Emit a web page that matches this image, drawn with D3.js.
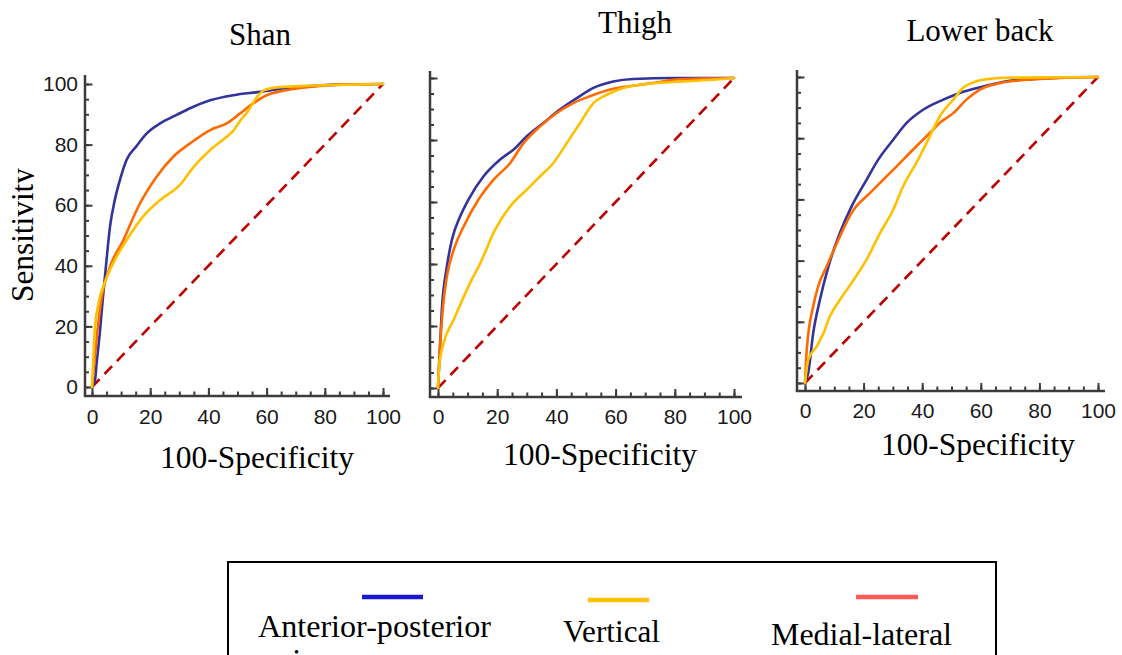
<!DOCTYPE html>
<html>
<head>
<meta charset="utf-8">
<script src="https://cdn.jsdelivr.net/npm/d3@7"></script>
<style>
  html, body { margin: 0; padding: 0; background: #fff; overflow: hidden; }
  svg { display: block; }
</style>
</head>
<body>
<svg id="chart" width="1122" height="655"></svg>
<script>
// ROC curves: [100-Specificity, Sensitivity] for each sensor axis and body location
const panelTitles = ["Shan", "Thigh", "Lower back"];
const seriesNames = ["Anterior-posterior", "Vertical", "Medial-lateral"];
const tickValues = [0, 20, 40, 60, 80, 100];
const minorTickValues = d3.range(0, 101, 5);

const apShank = [[0,0],[1.0,2],[1.6,8],[2.7,18],[3.8,30],[4.8,40],[6.2,53],[7.9,62],[9.8,69],[11.9,75],[15.3,79.5],[18.8,83.7],[23.4,87],[29.1,89.8],[33.7,92],[40.6,94.6],[48.6,96.3],[57.8,97.4],[65.8,98.5],[75,99.3],[85,99.8],[100,100]];
const vShank  = [[0,0],[0.5,10],[0.9,18],[2.1,27],[4.4,34.5],[7.9,42],[11.9,48.5],[17.6,56.3],[23.4,61.7],[30.2,66.7],[34.8,72.5],[40.6,78.2],[46.3,82.6],[48.5,84.5],[51,88],[53.2,90.5],[56.7,95.7],[59,97.9],[63.6,98.9],[71.6,99.3],[85,99.7],[100,100]];
const mlShank = [[0,0],[0.8,8],[1.8,18],[3.2,28.8],[6.2,39.7],[10.8,48.5],[15.9,59.5],[22.2,69.4],[27.9,76],[33.7,80.4],[40.6,84.8],[46.3,87],[50.9,90.3],[55.4,93.6],[60,96.3],[65.8,97.8],[73.8,98.9],[83,99.7],[100,100]];

const apThigh = [[0,0],[0.5,10],[1.3,25.3],[3.0,39.2],[4.7,47.8],[7.5,55.4],[10.3,60.8],[15.4,68.3],[21,73.7],[25.5,76.9],[30,81.2],[35.6,85.5],[41.2,89.8],[46.9,93.5],[52.5,96.8],[59.2,98.9],[66,99.7],[80,100],[100,100]];
const vThigh  = [[0,0],[0.4,7],[1.9,14.5],[5.3,22],[10.3,32.8],[14.3,40.3],[19.3,51.1],[24.4,58.6],[30,64],[34.5,68.3],[39,72.6],[43.5,79],[48,85.5],[52.5,91.9],[57,94.6],[62.6,96.8],[71.6,98.2],[82.8,98.9],[94,99.5],[100,100]];
const mlThigh = [[0,0],[0.6,12],[1.7,26.3],[3,36],[5.3,44.6],[8.7,52.2],[13.7,60.8],[18.8,67.2],[24.4,72.6],[28.9,79],[34.5,84.4],[40.1,88.7],[45.7,91.9],[51.3,94.1],[59.2,96.5],[66,97.5],[72.7,98.4],[80.6,99.5],[88.4,99.8],[100,100]];

const apLowerBack = [[0,0],[1.1,3.3],[2.8,16.3],[5.1,27.2],[8,38.1],[11.9,49],[15.9,57.7],[21,66.4],[25,73],[30.1,79.5],[34.7,85],[40.3,89.3],[47.2,92.6],[52.8,94.8],[60.8,96.9],[68.8,98.6],[77.8,99.3],[86.9,99.8],[100,100]];
const vLowerBack  = [[0,0],[1.1,7.6],[4,12],[6.3,16.3],[8.5,21.8],[11.9,27.2],[15.9,32.7],[21,40.3],[25.6,49],[30.1,56.6],[33.5,64.3],[38.6,73],[42.6,80.6],[46,87.1],[50.6,92.6],[53.9,96.4],[58.5,98.6],[64.2,99.5],[71,99.8],[100,100]];
const mlLowerBack = [[0,0],[0.6,10.9],[2.8,25.1],[4.5,31.6],[7.4,38.1],[11.4,46.8],[15.9,55.6],[22.2,62.1],[27.8,67.5],[31.3,70.8],[36.9,76.3],[42.6,81.7],[46,85],[50.6,88.2],[55.1,92.6],[59.7,95.9],[66.5,98],[75.6,99.1],[86.9,99.7],[100,100]];

const chanceLine = [[0,0],[100,100]];

// ---- styling ----
const curveColors = { ap: "#33339b", v: "#ffc000", ml: "#ff6a00" };
const legendColors = ["#1818d0", "#ffc000", "#ff5a55"];
const axisColor = "#3c3c3c";
const serif = "'Liberation Serif', 'Times New Roman', serif";
const sans = "'Liberation Sans', Arial, sans-serif";

// panel frames in pixels
const frames = [
  { x0: 92,  x1: 383,  y0: 387, y1: 84, axisX: 85,  axisY: 396, top: 75, right: 390, labelY: 13, showY: true,
    titleX: 260, titleY: 45, xtX: 257, xtY: 468 },
  { x0: 438, x1: 734,  y0: 388, y1: 78, axisX: 430, axisY: 397, top: 71, right: 742, labelY: 12, showY: false,
    titleX: 635, titleY: 33, xtX: 600, xtY: 465 },
  { x0: 805, x1: 1098, y0: 383, y1: 77, axisX: 797, axisY: 391, top: 70, right: 1105, labelY: 12, showY: false,
    titleX: 980, titleY: 41, xtX: 978, xtY: 455 }
];

const panelSeries = [
  { ap: apShank, v: vShank, ml: mlShank },
  { ap: apThigh, v: vThigh, ml: mlThigh },
  { ap: apLowerBack, v: vLowerBack, ml: mlLowerBack }
];

const svg = d3.select("#chart");

frames.forEach((f, i) => {
  const x = d3.scaleLinear().domain([0, 100]).range([f.x0, f.x1]);
  const y = d3.scaleLinear().domain([0, 100]).range([f.y0, f.y1]);
  const g = svg.append("g");

  // axis lines (extend beyond the data range, like the original frame)
  g.append("line").attr("x1", f.axisX).attr("x2", f.axisX).attr("y1", f.top).attr("y2", f.axisY)
    .attr("stroke", axisColor).attr("stroke-width", 2.5);
  g.append("line").attr("x1", f.axisX - 1.2).attr("x2", f.right).attr("y1", f.axisY).attr("y2", f.axisY)
    .attr("stroke", axisColor).attr("stroke-width", 2.5);

  // x ticks (pointing inward)
  const xMinor = g.append("g").attr("transform", `translate(0,${f.axisY})`)
    .call(d3.axisBottom(x).tickValues(minorTickValues).tickSizeInner(-4.5).tickSizeOuter(0).tickFormat(""));
  const xMajor = g.append("g").attr("transform", `translate(0,${f.axisY})`)
    .call(d3.axisBottom(x).tickValues(tickValues).tickSizeInner(-8).tickSizeOuter(0).tickPadding(f.labelY));
  // y ticks
  const yMinor = g.append("g").attr("transform", `translate(${f.axisX},0)`)
    .call(d3.axisLeft(y).tickValues(minorTickValues).tickSizeInner(-4).tickSizeOuter(0).tickFormat(""));
  const yMajor = g.append("g").attr("transform", `translate(${f.axisX},0)`)
    .call(d3.axisLeft(y).tickValues(tickValues).tickSizeInner(-7.5).tickSizeOuter(0).tickPadding(7)
      .tickFormat(f.showY ? d3.format("d") : ""));

  [xMinor, xMajor, yMinor, yMajor].forEach(a => {
    a.select(".domain").remove();
    a.selectAll(".tick line").attr("stroke", axisColor).attr("stroke-width", 2);
    a.selectAll(".tick text").attr("fill", "#1a1a1a").attr("font-family", sans).attr("font-size", 21);
  });

  // chance diagonal
  const line = d3.line().x(d => x(d[0])).y(d => y(d[1]));
  g.append("path").datum(chanceLine).attr("d", line)
    .attr("fill", "none").attr("stroke", "#c00000").attr("stroke-width", 2.6)
    .attr("stroke-dasharray", "11,7");

  const smooth = d3.line().x(d => x(d[0])).y(d => y(d[1])).curve(d3.curveMonotoneX);
  ["ap", "ml", "v"].forEach(k => {
    g.append("path").datum(panelSeries[i][k]).attr("d", smooth)
      .attr("fill", "none").attr("stroke", curveColors[k]).attr("stroke-width", 2.6)
      .attr("stroke-linejoin", "round").attr("stroke-linecap", "round");
  });

  // panel title and x-axis title
  svg.append("text").attr("x", f.titleX).attr("y", f.titleY).attr("text-anchor", "middle")
    .attr("font-family", serif).attr("font-size", 31).attr("fill", "#000").text(panelTitles[i]);
  svg.append("text").attr("x", f.xtX).attr("y", f.xtY).attr("text-anchor", "middle")
    .attr("font-family", serif).attr("font-size", 31.5).attr("fill", "#000").text("100-Specificity");
});

// y-axis title (clipped on its baseline side)
svg.append("defs").append("clipPath").attr("id", "ytitle-clip")
  .append("rect").attr("x", 0).attr("y", 100).attr("width", 34).attr("height", 300);
svg.append("g").attr("clip-path", "url(#ytitle-clip)")
  .append("text").attr("transform", "translate(33,235) rotate(-90)").attr("text-anchor", "middle")
  .attr("font-family", serif).attr("font-size", 31.3).attr("fill", "#000").text("Sensitivity");

// legend
const legend = svg.append("g");
legend.append("rect").attr("x", 228).attr("y", 562).attr("width", 768).attr("height", 140)
  .attr("fill", "#fff").attr("stroke", "#000").attr("stroke-width", 2);

const legendItems = [
  { sx: 362, ex: 423, ly: 597, tx: 258, ty: 637, tw: 233 },
  { sx: 588, ex: 649, ly: 600, tx: 563, ty: 642, tw: 97 },
  { sx: 856, ex: 918, ly: 597, tx: 771, ty: 645, tw: 181 }
];
legendItems.forEach((it, j) => {
  legend.append("line").attr("x1", it.sx).attr("x2", it.ex).attr("y1", it.ly).attr("y2", it.ly)
    .attr("stroke", legendColors[j]).attr("stroke-width", 4.5);
  legend.append("text").attr("x", it.tx).attr("y", it.ty)
    .attr("font-family", serif).attr("font-size", 32).attr("fill", "#000")
    .attr("textLength", it.tw).attr("lengthAdjust", "spacingAndGlyphs").text(seriesNames[j]);
});
// second line of the first legend label
legend.append("text").attr("x", 262).attr("y", 671)
  .attr("font-family", serif).attr("font-size", 32).attr("fill", "#000").text("axis");
</script>
</body>
</html>
